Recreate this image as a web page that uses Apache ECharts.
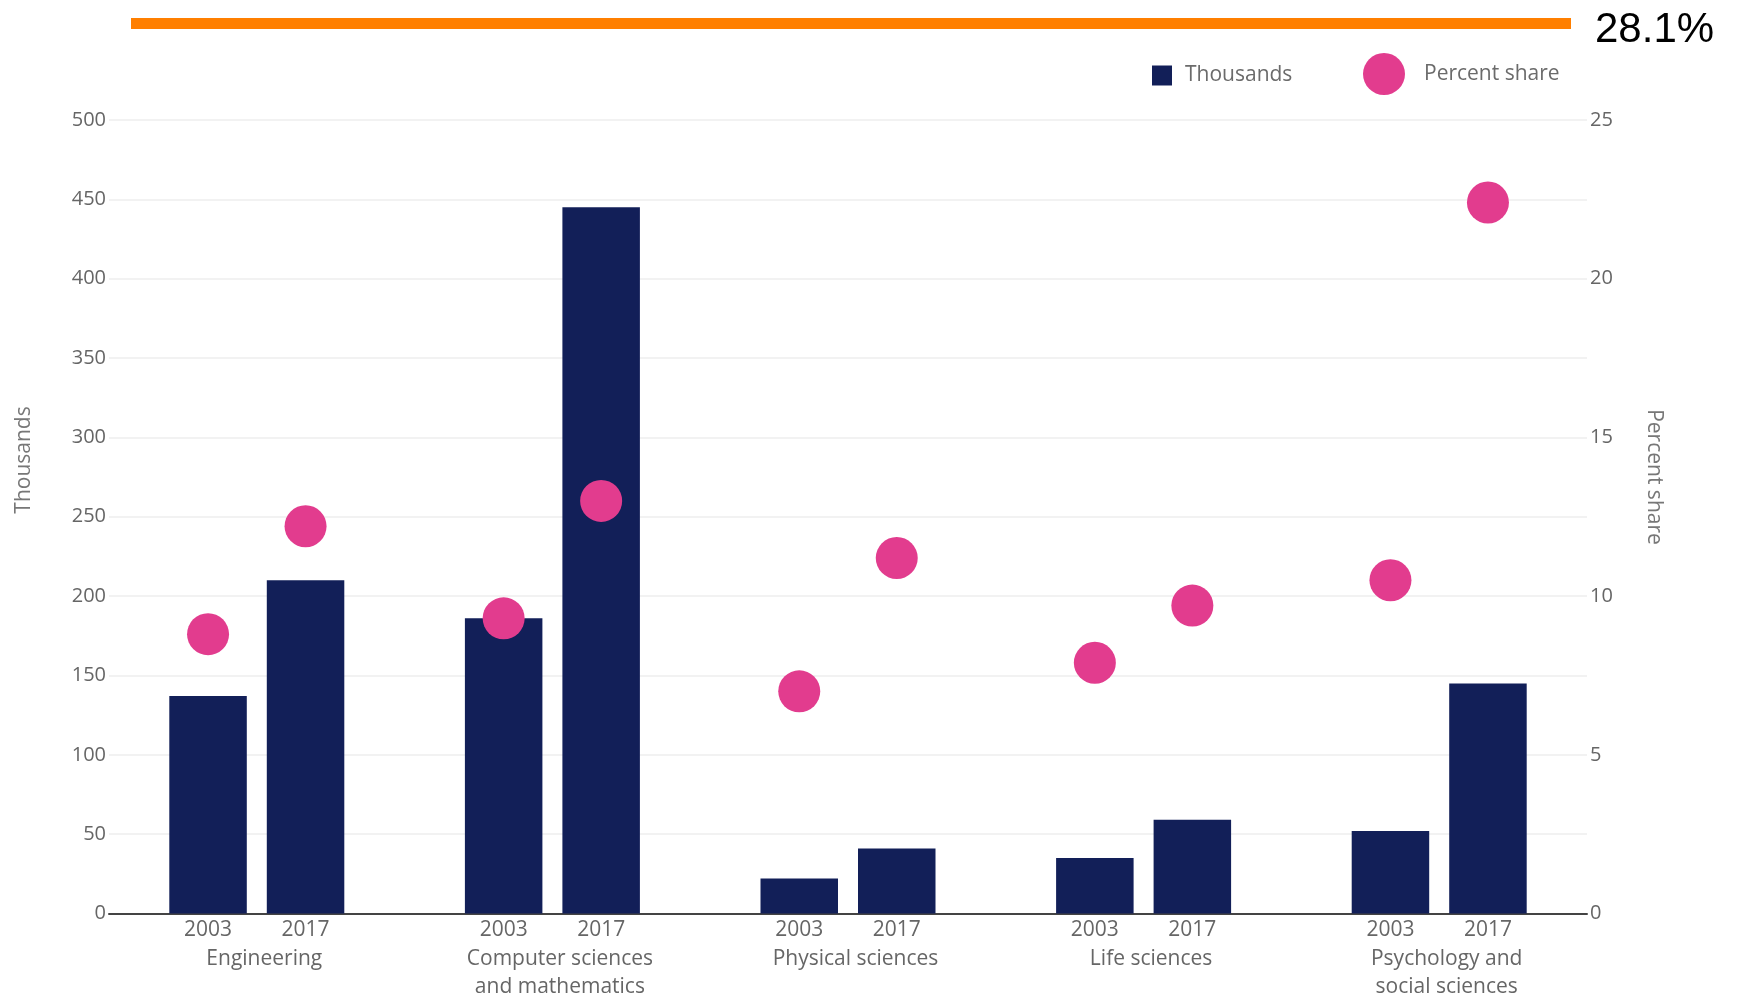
<!DOCTYPE html>
<html>
<head>
<meta charset="utf-8">
<script src="https://cdn.jsdelivr.net/npm/echarts@6/dist/echarts.min.js"></script>
<style>
html,body{margin:0;padding:0;background:#fff;}
#chart{width:1737px;height:998px;}
</style>
</head>
<body>
<div id="chart"></div>
<script>
var categories = ['Engineering', 'Computer sciences\nand mathematics', 'Physical sciences', 'Life sciences', 'Psychology and\nsocial sciences'];
var years = ['2003', '2017'];
var thousands2003 = [137, 186, 22, 35, 52];
var thousands2017 = [210, 445, 41, 59, 145];
var share2003 = [8.8, 9.3, 7.0, 7.9, 10.5];
var share2017 = [12.2, 13.0, 11.2, 9.7, 22.4];
var leftTicks = [0, 500, 50];
var rightTicks = [0, 25, 5];
var headline = '28.1%';

var NAVY = '#121f58';
var PINK = '#e23c8e';
var FONT = '"Open Sans", "Noto Sans", sans-serif';
var BAR_W = 77.5, BAR_GAP_PX = 20;
var OFF = (BAR_W + BAR_GAP_PX) / 2;

var chart = echarts.init(document.getElementById('chart'));

function catLabel(v) {
  var lines = v.split('\n').map(function (l) { return '{n|' + l + '}'; }).join('\n');
  return '{y|' + years[0] + '}{y|' + years[1] + '}\n' + lines;
}

var option = {
  backgroundColor: '#fff',
  animation: false,
  grid: { left: 109, right: 150, top: 120, bottom: 84, containLabel: false },
  legend: [
    {
      data: [{ name: 'Thousands', icon: 'rect' }],
      left: 1147, top: 60, itemWidth: 20, itemHeight: 20,
      textStyle: { color: '#6b6b6b', fontSize: 21, fontFamily: FONT, padding: [0, 0, 0, 8] }
    },
    {
      data: [{ name: 'Percent share', icon: 'circle' }],
      left: 1358, top: 48, itemWidth: 42, itemHeight: 42,
      textStyle: { color: '#6b6b6b', fontSize: 21, fontFamily: FONT, padding: [0, 0, 0, 14] }
    }
  ],
  xAxis: {
    type: 'category',
    data: categories,
    axisLine: { lineStyle: { color: '#444', width: 2 } },
    axisTick: { show: false },
    axisLabel: {
      interval: 0, margin: 2,
      formatter: catLabel,
      rich: {
        y: { width: BAR_W + BAR_GAP_PX, align: 'center', fontSize: 21, lineHeight: 30, color: '#666', fontFamily: FONT },
        n: { fontSize: 21, lineHeight: 28, color: '#666', fontFamily: FONT, align: 'center', padding: [0, 0, 0, 15] }
      }
    }
  },
  yAxis: [
    {
      type: 'value', min: leftTicks[0], max: leftTicks[1], interval: leftTicks[2],
      axisLine: { show: false }, axisTick: { show: false },
      axisLabel: { color: '#666', fontSize: 20, fontFamily: FONT, margin: 3 },
      splitLine: { lineStyle: { color: '#eeeeee', width: 1.5 } }
    },
    {
      type: 'value', min: rightTicks[0], max: rightTicks[1], interval: rightTicks[2],
      axisLine: { show: false }, axisTick: { show: false },
      axisLabel: { color: '#666', fontSize: 20, fontFamily: FONT, margin: 3 },
      splitLine: { show: false }
    }
  ],
  series: [
    { name: 'Thousands', type: 'bar', data: thousands2003, barWidth: BAR_W, barGap: (BAR_GAP_PX / BAR_W * 100) + '%', itemStyle: { color: NAVY } },
    { name: 'Thousands', type: 'bar', data: thousands2017, barWidth: BAR_W, barGap: (BAR_GAP_PX / BAR_W * 100) + '%', itemStyle: { color: NAVY } },
    { name: 'Percent share', type: 'scatter', yAxisIndex: 1, data: share2003, symbol: 'circle', symbolSize: 42, symbolOffset: [-OFF, 0], itemStyle: { color: PINK, opacity: 1 }, z: 5 },
    { name: 'Percent share', type: 'scatter', yAxisIndex: 1, data: share2017, symbol: 'circle', symbolSize: 42, symbolOffset: [OFF, 0], itemStyle: { color: PINK, opacity: 1 }, z: 5 }
  ],
  graphic: [
    { type: 'rect', left: 131, top: 18, shape: { width: 1440, height: 11 }, style: { fill: '#ff7f00' }, silent: true },
    { type: 'text', x: 1595, y: 30, style: { text: headline, fill: '#000', fontSize: 42, fontFamily: '"Liberation Sans", Arial, sans-serif', verticalAlign: 'middle', align: 'left' } },
    { type: 'text', x: 24, y: 460, rotation: Math.PI / 2, style: { text: 'Thousands', fill: '#777', fontSize: 21, fontFamily: FONT, align: 'center', verticalAlign: 'middle' } },
    { type: 'text', x: 1654, y: 477, rotation: -Math.PI / 2, style: { text: 'Percent share', fill: '#777', fontSize: 21, fontFamily: FONT, align: 'center', verticalAlign: 'middle' } }
  ]
};
chart.setOption(option);
</script>
</body>
</html>
